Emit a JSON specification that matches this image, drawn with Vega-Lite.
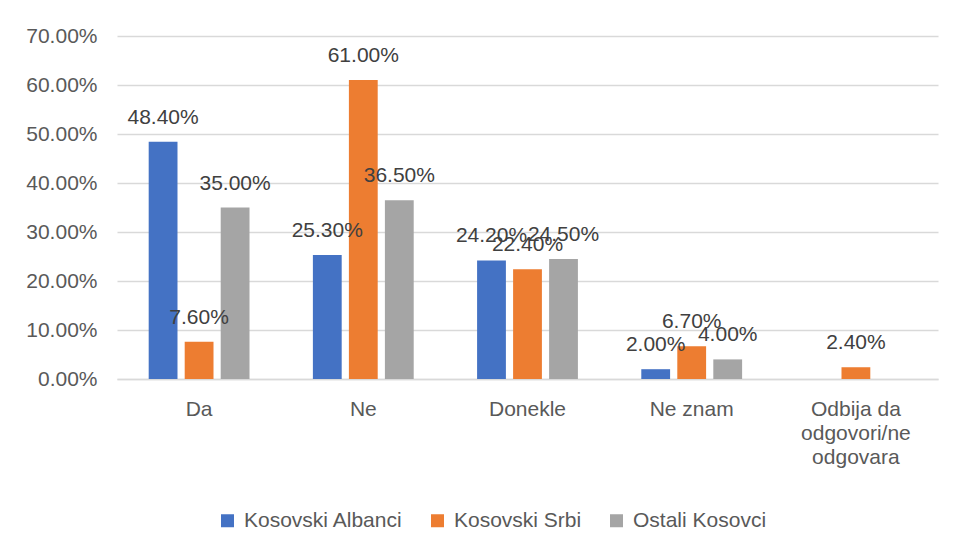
{
  "$schema": "https://vega.github.io/schema/vega-lite/v6.json",
  "width": 821,
  "height": 343,
  "autosize": {"type": "none"},
  "padding": {"left": 117, "top": 36, "right": 27, "bottom": 180},
  "background": "white",
  "config": {
    "view": {"stroke": null},
    "font": "Liberation Sans"
  },
  "data": {
    "values": [
      {"odgovor": "Da", "grupa": "Kosovski Albanci", "vrednost": 0.484},
      {"odgovor": "Da", "grupa": "Kosovski Srbi", "vrednost": 0.076},
      {"odgovor": "Da", "grupa": "Ostali Kosovci", "vrednost": 0.35},
      {"odgovor": "Ne", "grupa": "Kosovski Albanci", "vrednost": 0.253},
      {"odgovor": "Ne", "grupa": "Kosovski Srbi", "vrednost": 0.61},
      {"odgovor": "Ne", "grupa": "Ostali Kosovci", "vrednost": 0.365},
      {"odgovor": "Donekle", "grupa": "Kosovski Albanci", "vrednost": 0.242},
      {"odgovor": "Donekle", "grupa": "Kosovski Srbi", "vrednost": 0.224},
      {"odgovor": "Donekle", "grupa": "Ostali Kosovci", "vrednost": 0.245},
      {"odgovor": "Ne znam", "grupa": "Kosovski Albanci", "vrednost": 0.02},
      {"odgovor": "Ne znam", "grupa": "Kosovski Srbi", "vrednost": 0.067},
      {"odgovor": "Ne znam", "grupa": "Ostali Kosovci", "vrednost": 0.04},
      {"odgovor": "Odbija da odgovori/ne odgovara", "grupa": "Kosovski Srbi", "vrednost": 0.024}
    ]
  },
  "encoding": {
    "x": {
      "field": "odgovor",
      "type": "nominal",
      "sort": ["Da", "Ne", "Donekle", "Ne znam", "Odbija da odgovori/ne odgovara"],
      "scale": {"paddingInner": 0, "paddingOuter": 0},
      "axis": {
        "title": null,
        "labelAngle": 0,
        "ticks": false,
        "domainColor": "#D9D9D9",
        "domainWidth": 1.5,
        "labelFontSize": 21,
        "labelColor": "#595959",
        "labelPadding": 19,
        "labelBaseline": "top",
        "labelLineHeight": 24,
        "labelExpr": "datum.value == 'Odbija da odgovori/ne odgovara' ? ['Odbija da', 'odgovori/ne', 'odgovara'] : datum.value"
      }
    },
    "xOffset": {
      "field": "grupa",
      "type": "nominal",
      "scale": {"paddingInner": 0.2, "paddingOuter": 0.88}
    },
    "y": {
      "field": "vrednost",
      "type": "quantitative",
      "scale": {"domain": [0, 0.7]},
      "axis": {
        "title": null,
        "values": [0, 0.1, 0.2, 0.3, 0.4, 0.5, 0.6, 0.7],
        "format": ".2%",
        "domain": false,
        "ticks": false,
        "gridColor": "#D9D9D9",
        "gridWidth": 1.5,
        "labelFontSize": 21,
        "labelColor": "#595959",
        "labelPadding": 20
      }
    }
  },
  "layer": [
    {
      "mark": {"type": "bar"},
      "encoding": {
        "color": {
          "field": "grupa",
          "type": "nominal",
          "scale": {
            "domain": ["Kosovski Albanci", "Kosovski Srbi", "Ostali Kosovci"],
            "range": ["#4472C4", "#ED7D31", "#A5A5A5"]
          },
          "legend": {
            "title": null,
            "orient": "none",
            "direction": "horizontal",
            "legendX": 100,
            "legendY": 474,
            "symbolType": "square",
            "symbolSize": 169,
            "symbolStrokeWidth": 0,
            "labelFontSize": 21,
            "labelColor": "#595959",
            "labelOffset": 6,
            "columnPadding": 24
          }
        }
      }
    },
    {
      "mark": {"type": "text", "baseline": "alphabetic", "dy": -18, "fontSize": 21, "color": "#404040"},
      "encoding": {
        "text": {"field": "vrednost", "type": "quantitative", "format": ".2%"}
      }
    }
  ]
}
